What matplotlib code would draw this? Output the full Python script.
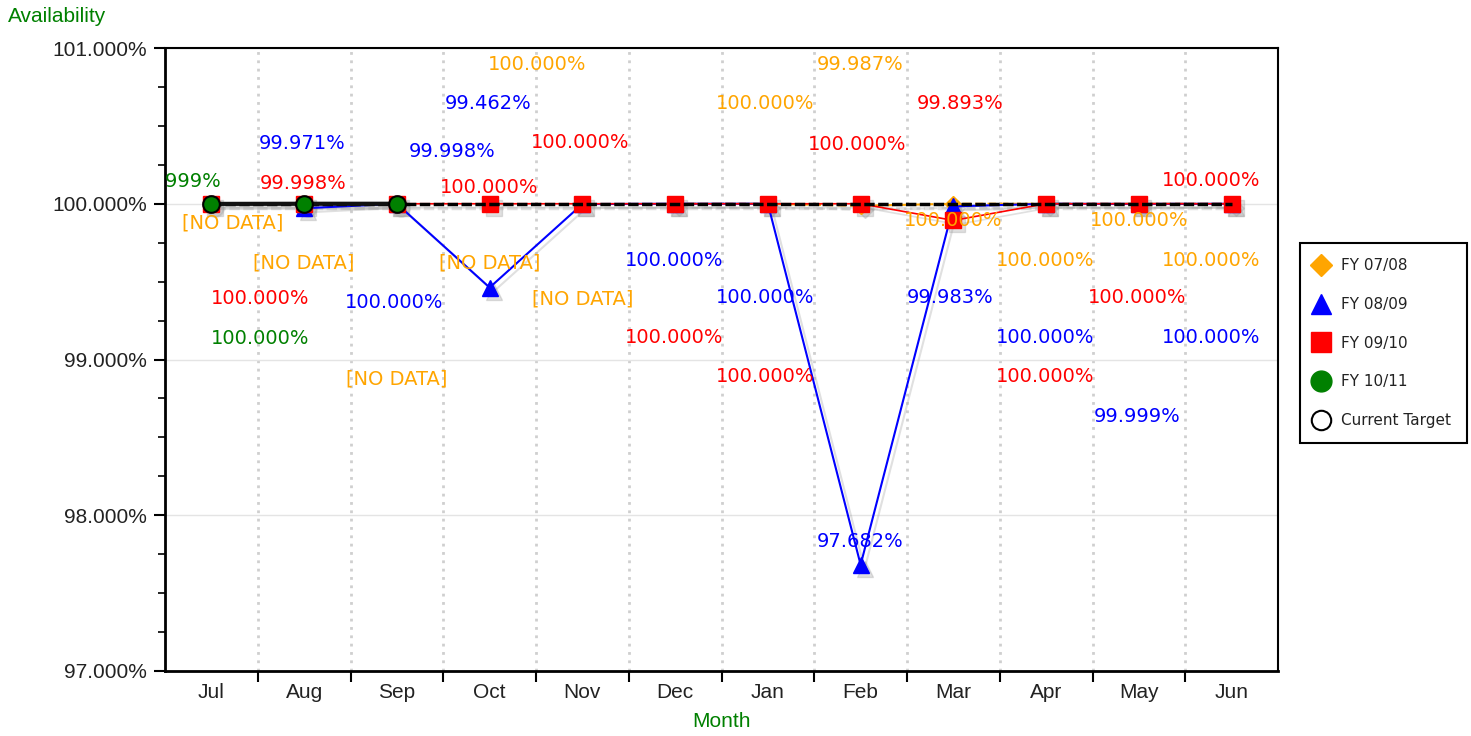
import matplotlib
matplotlib.use("Agg")
import matplotlib.pyplot as plt
from matplotlib.lines import Line2D
from matplotlib.ticker import FuncFormatter, MultipleLocator
from matplotlib.transforms import offset_copy
import numpy as np

nan = np.nan

# data
months = ["Jul", "Aug", "Sep", "Oct", "Nov", "Dec", "Jan", "Feb", "Mar", "Apr", "May", "Jun"]
fy0708 = [nan, nan, nan, nan, nan, 100.000, 100.000, 99.987, 100.000, 100.000, 100.000, 100.000]
fy0809 = [nan, 99.971, 100.000, 99.462, 99.998, 100.000, 100.000, 97.682, 99.983, 100.000, 99.999, 100.000]
fy0910 = [100.000, 99.998, 100.000, 100.000, 100.000, 100.000, 100.000, 100.000, 99.893, 100.000, 100.000, 100.000]
fy1011 = [99.999, 100.000, 100.000, nan, nan, nan, nan, nan, nan, nan, nan, nan]
target = [100.0] * 12

# where each value label sits, offset from its point in pixels (None = hidden)
off0708 = [(21, -19), (0, -59), (0, -175), (0, -59), (0, -95), (-138, 139),
           (-3, 100), (-1, 141), (0, -17), (-1, -57), (0, -17), (-20, -57)]
off0809 = [None, (-2, 65), (-3, -99), (-1, 184), (-130, 53), (-1, -57),
           (-3, -94), (-1, 23), (-3, -91), (-1, -134), (-2, -213), (-20, -134)]
off0910 = [(49, -95), (-1, 21), None, (-1, 16), (-2, 61), (-1, -134),
           (-3, -173), (-3, 59), (7, 117), (-1, -173), (-2, -94), (-20, 23)]
off1011 = [(-33, 22), (-44, -135), None] + [None] * 9

ORANGE = "#FFA500"
BLUE = "#0000FF"
RED = "#FF0000"
GREEN = "#008000"

fig = plt.figure(figsize=(14.71, 7.36), dpi=100)
ax = fig.add_axes([165 / 1471, 65 / 736, (1278 - 165) / 1471, (671 - 48) / 736])

x = np.arange(len(months))
# soft drop shadow: same data shifted a few pixels down-right
shadow_tr = offset_copy(ax.transData, fig=fig, x=4, y=-4, units="dots")


def draw(vals, z, **kw):
    sk = dict(kw)
    sk.update(color="#999999", mfc="#999999", mec="#999999", alpha=0.3)
    ax.plot(x, vals, transform=shadow_tr, zorder=2, **sk)
    ax.plot(x, vals, zorder=z, **kw)


draw(fy0708, 3, color=ORANGE, lw=1.5, dashes=(4, 2), marker="D", ms=8.5, mec=ORANGE)
draw(fy0809, 4, color=BLUE, lw=1.5, marker="^", ms=12, mec=BLUE)
draw(fy0910, 5, color=RED, lw=1.2, marker="s", ms=12, mec=RED)
draw(target, 6, color="black", lw=2.5, dashes=(3, 1))
draw(fy1011, 7, color="#111111", lw=3, marker="o", ms=12, mfc=GREEN, mec="black", mew=1.5)

# value labels
for vals, offs, col in [(fy0708, off0708, ORANGE), (fy0809, off0809, BLUE),
                        (fy0910, off0910, RED), (fy1011, off1011, GREEN)]:
    for i, (v, o) in enumerate(zip(vals, offs)):
        if o is None:
            continue
        txt = "[NO DATA]" if np.isnan(v) else f"{v:.3f}%"
        yv = 100.0 if np.isnan(v) else v
        t = ax.annotate(txt, (i, yv), xytext=o, textcoords="offset pixels",
                        ha="center", va="center", color=col, fontsize=14,
                        family="DejaVu Sans", zorder=10)
        t.set_clip_path(ax.patch)

ax.set_xlim(-0.5, 11.5)
ax.set_ylim(97, 101)

# x axis: ticks/grid on category boundaries, labels at centres
ax.set_xticks(np.arange(0.5, 11, 1))
ax.set_xticklabels([])
ax.set_xticks(x, minor=True)
ax.set_xticklabels(months, minor=True, fontsize=15, family="Liberation Sans", color="#222222")
ax.tick_params(axis="x", which="major", length=8, width=1.5, direction="out")
ax.tick_params(axis="x", which="minor", length=0, pad=9)
ax.xaxis.grid(True, which="major", color="#cfcfcf", lw=2, linestyle=(0, (1, 2)))

ax.set_yticks([97, 98, 99, 100, 101])
ax.yaxis.set_major_formatter(FuncFormatter(lambda v, _: f"{v:.3f}%"))
ax.yaxis.set_minor_locator(MultipleLocator(0.25))
ax.tick_params(axis="y", which="major", length=8, width=1.5, pad=5, labelsize=15, labelcolor="#222222")
ax.tick_params(axis="y", which="minor", length=5, width=1.2)
for lab in ax.get_yticklabels():
    lab.set_family("Liberation Sans")
ax.yaxis.grid(True, which="major", color="#e4e4e4", lw=1)
ax.set_axisbelow(True)

for side in ["left", "bottom"]:
    ax.spines[side].set_linewidth(2)
for side in ["top", "right"]:
    ax.spines[side].set_linewidth(1.5)

ax.set_xlabel("Month", color=GREEN, fontsize=15, family="Liberation Sans", labelpad=7)
fig.text(8 / 1471, 1 - 16 / 736, "Availability", color=GREEN, fontsize=15,
         family="Liberation Sans", ha="left", va="center")

handles = [
    Line2D([], [], ls="none", marker="D", ms=11, color=ORANGE),
    Line2D([], [], ls="none", marker="^", ms=15, color=BLUE),
    Line2D([], [], ls="none", marker="s", ms=15, color=RED),
    Line2D([], [], ls="none", marker="o", ms=15, color=GREEN),
    Line2D([], [], ls="none", marker="o", ms=14, mfc="white", mec="black", mew=1.5),
]
labels = ["FY 07/08", "FY 08/09", "FY 09/10", "FY 10/11", "Current Target"]
leg = fig.legend(handles, labels, loc="upper left", bbox_to_anchor=(1300 / 1471, 1 - 243 / 736),
                 borderaxespad=0, fontsize=11, labelspacing=1.55, borderpad=1.0,
                 handlelength=0.8, handletextpad=0.9, fancybox=False, framealpha=1,
                 edgecolor="black")
leg.get_frame().set_linewidth(1.5)
for t in leg.get_texts():
    t.set_color("#222222")

fig.savefig("out.png", dpi=100)
